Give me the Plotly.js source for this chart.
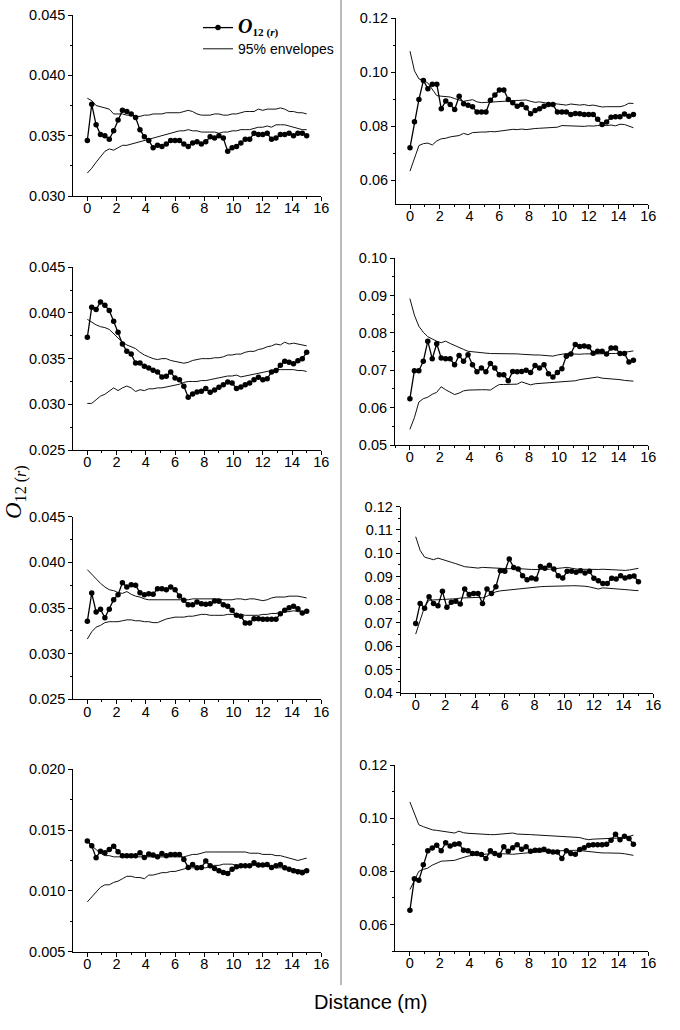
<!DOCTYPE html>
<html><head><meta charset="utf-8">
<script src="https://cdn.plot.ly/plotly-3.0.1.min.js"></script>
<style>html,body{margin:0;padding:0;background:#fff}#chart{width:680px;height:1030px}</style>
</head><body><div id="chart"></div>
<script>
// Distance (m)
const distance = [0,0.3,0.6,0.9,1.2,1.5,1.8,2.1,2.4,2.7,3,3.3,3.6,3.9,4.2,4.5,4.8,5.1,5.4,5.7,6,6.3,6.6,6.9,7.2,7.5,7.8,8.1,8.4,8.7,9,9.3,9.6,9.9,10.2,10.5,10.8,11.1,11.4,11.7,12,12.3,12.6,12.9,13.2,13.5,13.8,14.1,14.4,14.7,15];

// Panel 1 (row 1, left)
const obs1 = [0.0346,0.0376,0.0359,0.0351,0.0350,0.0347,0.0354,0.0363,0.0371,0.0370,0.0368,0.0365,0.0355,0.0349,0.0346,0.0340,0.0342,0.0341,0.0343,0.0346,0.0346,0.0346,0.0343,0.0341,0.0344,0.0345,0.0343,0.0345,0.0349,0.0348,0.0350,0.0348,0.0337,0.0340,0.0341,0.0344,0.0347,0.0347,0.0352,0.0351,0.0351,0.0352,0.0347,0.0348,0.0351,0.0351,0.0352,0.0350,0.0352,0.0352,0.0350];
const up1 = [0.0381,0.0379,0.0375,0.0374,0.0373,0.0372,0.0368,0.0368,0.0368,0.0367,0.0367,0.0366,0.0366,0.0367,0.0367,0.0368,0.0368,0.0368,0.0369,0.0369,0.0369,0.0369,0.0370,0.0371,0.0370,0.0368,0.0367,0.0367,0.0367,0.0368,0.0368,0.0367,0.0367,0.0368,0.0368,0.0369,0.0370,0.0370,0.0370,0.0372,0.0371,0.0372,0.0372,0.0372,0.0373,0.0372,0.0370,0.0370,0.0369,0.0369,0.0368];
const lo1 = [0.0319,0.0323,0.0328,0.0333,0.0337,0.0339,0.0338,0.0340,0.0342,0.0342,0.0343,0.0344,0.0345,0.0346,0.0347,0.0348,0.0349,0.0350,0.0351,0.0352,0.0353,0.0354,0.0354,0.0355,0.0354,0.0354,0.0353,0.0353,0.0353,0.0353,0.0352,0.0353,0.0353,0.0354,0.0354,0.0355,0.0355,0.0355,0.0356,0.0357,0.0357,0.0358,0.0357,0.0359,0.0359,0.0359,0.0358,0.0357,0.0356,0.0355,0.0355];

// Panel 2 (row 1, right)
const obs2 = [0.0720,0.0816,0.0899,0.0969,0.0939,0.0955,0.0955,0.0864,0.0893,0.0880,0.0862,0.0911,0.0883,0.0877,0.0872,0.0852,0.0852,0.0852,0.0896,0.0915,0.0934,0.0934,0.0899,0.0887,0.0874,0.0880,0.0868,0.0846,0.0858,0.0864,0.0874,0.0880,0.0880,0.0852,0.0852,0.0852,0.0843,0.0847,0.0846,0.0843,0.0843,0.0843,0.0825,0.0806,0.0815,0.0833,0.0835,0.0835,0.0845,0.0837,0.0843];
const up2 = [0.1078,0.1005,0.0975,0.0970,0.0960,0.0935,0.0913,0.0911,0.0910,0.0908,0.0902,0.0898,0.0892,0.0895,0.0898,0.0890,0.0887,0.0888,0.0889,0.0889,0.0889,0.0890,0.0891,0.0893,0.0893,0.0895,0.0897,0.0892,0.0888,0.0890,0.0887,0.0884,0.0884,0.0882,0.0880,0.0878,0.0882,0.0879,0.0878,0.0880,0.0876,0.0878,0.0874,0.0871,0.0872,0.0872,0.0873,0.0872,0.0876,0.0885,0.0884];
const lo2 = [0.0633,0.0685,0.0728,0.0735,0.0737,0.0730,0.0745,0.0753,0.0755,0.0760,0.0763,0.0765,0.0773,0.0768,0.0776,0.0778,0.0778,0.0778,0.0780,0.0779,0.0781,0.0785,0.0786,0.0788,0.0787,0.0789,0.0787,0.0790,0.0791,0.0792,0.0793,0.0794,0.0793,0.0796,0.0802,0.0801,0.0800,0.0801,0.0800,0.0799,0.0801,0.0800,0.0802,0.0804,0.0802,0.0804,0.0801,0.0807,0.0806,0.0800,0.0794];

// Panel 3 (row 2, left)
const obs3 = [0.03734,0.04062,0.04037,0.04120,0.04084,0.04026,0.03909,0.03788,0.03661,0.03580,0.03551,0.03453,0.03453,0.03416,0.03398,0.03372,0.03354,0.03299,0.03307,0.03354,0.03288,0.03270,0.03197,0.03077,0.03113,0.03135,0.03142,0.03172,0.03131,0.03157,0.03186,0.03215,0.03245,0.03234,0.03172,0.03190,0.03215,0.03234,0.03270,0.03296,0.03270,0.03281,0.03354,0.03369,0.03427,0.03471,0.03460,0.03445,0.03478,0.03500,0.03569];
const up3 = [0.0393,0.0390,0.0387,0.0385,0.0384,0.0382,0.0377,0.0372,0.0368,0.0365,0.0363,0.0361,0.0357,0.0354,0.0352,0.0350,0.0349,0.0350,0.0350,0.0348,0.0347,0.0346,0.0345,0.0346,0.0348,0.0349,0.0350,0.0350,0.0350,0.0351,0.0351,0.0352,0.0354,0.0354,0.0355,0.0355,0.0357,0.0358,0.0358,0.0360,0.0361,0.0363,0.0364,0.0366,0.0365,0.0368,0.0366,0.0367,0.0366,0.0365,0.0364];
const lo3 = [0.0301,0.0301,0.0305,0.0309,0.0311,0.0315,0.0318,0.0315,0.0318,0.0320,0.0318,0.0314,0.0316,0.0315,0.0317,0.0317,0.0318,0.0318,0.0319,0.0320,0.0321,0.0322,0.0324,0.0325,0.0325,0.0325,0.0326,0.0326,0.0327,0.0328,0.0329,0.0330,0.0331,0.0331,0.0332,0.0330,0.0331,0.0332,0.0333,0.0334,0.0335,0.0336,0.0337,0.0338,0.0338,0.0338,0.0338,0.0338,0.0337,0.0337,0.0336];

// Panel 4 (row 2, right)
const obs4 = [0.0624,0.0699,0.0699,0.0724,0.0778,0.0731,0.0771,0.0733,0.0731,0.0731,0.0715,0.0740,0.0724,0.0742,0.0715,0.0696,0.0706,0.0696,0.0718,0.0706,0.0688,0.0688,0.0672,0.0697,0.0696,0.0697,0.0700,0.0694,0.0713,0.0706,0.0715,0.0691,0.0682,0.0694,0.0704,0.0738,0.0744,0.0769,0.0764,0.0765,0.0763,0.0746,0.0751,0.0751,0.0744,0.0760,0.0760,0.0745,0.0745,0.0722,0.0727];
const up4 = [0.0892,0.0848,0.0818,0.0802,0.0790,0.0783,0.0778,0.0774,0.0778,0.0772,0.0766,0.0760,0.0756,0.0751,0.0750,0.0750,0.0748,0.0746,0.0745,0.0745,0.0745,0.0745,0.0745,0.0746,0.0744,0.0743,0.0742,0.0742,0.0741,0.0741,0.0740,0.0740,0.0738,0.0741,0.0743,0.0745,0.0744,0.0743,0.0743,0.0744,0.0745,0.0744,0.0744,0.0745,0.0745,0.0745,0.0745,0.0746,0.0748,0.0750,0.0752];
const lo4 = [0.0542,0.0573,0.0615,0.0624,0.0628,0.0636,0.0641,0.0656,0.0648,0.0641,0.0635,0.0639,0.0645,0.0647,0.0648,0.0648,0.0648,0.0648,0.0647,0.0655,0.0662,0.0662,0.0663,0.0664,0.0663,0.0669,0.0664,0.0661,0.0664,0.0665,0.0666,0.0666,0.0666,0.0668,0.0669,0.0670,0.0670,0.0672,0.0675,0.0677,0.0678,0.0679,0.0682,0.0679,0.0678,0.0679,0.0677,0.0675,0.0673,0.0673,0.0671];

// Panel 5 (row 3, left)
const obs5 = [0.03354,0.03664,0.03456,0.03485,0.03394,0.03485,0.03591,0.03646,0.03777,0.03730,0.03755,0.03748,0.03668,0.03646,0.03657,0.03650,0.03712,0.03712,0.03701,0.03730,0.03701,0.03631,0.03584,0.03536,0.03536,0.03566,0.03547,0.03540,0.03547,0.03577,0.03573,0.03536,0.03518,0.03474,0.03420,0.03409,0.03336,0.03336,0.03383,0.03383,0.03376,0.03376,0.03376,0.03376,0.03438,0.03474,0.03504,0.03518,0.03493,0.03445,0.03464];
const up5 = [0.0392,0.0387,0.0381,0.0377,0.0373,0.0370,0.0369,0.0367,0.0366,0.0368,0.0365,0.0363,0.0362,0.0360,0.0359,0.0359,0.0359,0.0359,0.0359,0.0359,0.0359,0.0359,0.0359,0.0359,0.0360,0.0360,0.0360,0.0360,0.0360,0.0360,0.0360,0.0359,0.0359,0.0359,0.0360,0.0360,0.0359,0.0360,0.0360,0.0359,0.0358,0.0359,0.0361,0.0362,0.0362,0.0362,0.0363,0.0363,0.0363,0.0362,0.0361];
const lo5 = [0.0316,0.0324,0.0329,0.0331,0.0334,0.0335,0.0335,0.0335,0.0336,0.0337,0.0337,0.0336,0.0336,0.0335,0.0335,0.0334,0.0334,0.0336,0.0338,0.0339,0.0340,0.0340,0.0340,0.0341,0.0341,0.0342,0.0343,0.0343,0.0342,0.0342,0.0342,0.0342,0.0343,0.0343,0.0343,0.0343,0.0342,0.0342,0.0342,0.0342,0.0343,0.0343,0.0344,0.0344,0.0345,0.0346,0.0346,0.0347,0.0346,0.0346,0.0345];

// Panel 6 (row 3, right)
const obs6 = [0.0698,0.0784,0.0763,0.0813,0.0784,0.0774,0.0836,0.0767,0.0789,0.0793,0.0781,0.0846,0.0822,0.0827,0.0827,0.0784,0.0846,0.0827,0.0856,0.0925,0.0922,0.0975,0.0939,0.0932,0.0903,0.0886,0.0893,0.0889,0.0943,0.0935,0.0948,0.0932,0.0903,0.0893,0.0922,0.0922,0.0918,0.0925,0.0915,0.0922,0.0892,0.0882,0.0870,0.0870,0.0892,0.0889,0.0903,0.0893,0.0899,0.0902,0.0877];
const up6 = [0.1071,0.1012,0.0983,0.0977,0.0972,0.0979,0.0972,0.0966,0.0961,0.0955,0.0948,0.0942,0.0940,0.0939,0.0936,0.0939,0.0938,0.0935,0.0935,0.0935,0.0934,0.0933,0.0935,0.0933,0.0932,0.0932,0.0930,0.0930,0.0929,0.0931,0.0931,0.0932,0.0934,0.0937,0.0939,0.0935,0.0932,0.0931,0.0930,0.0929,0.0929,0.0930,0.0931,0.0930,0.0927,0.0925,0.0925,0.0926,0.0928,0.0932,0.0935];
const lo6 = [0.0652,0.0716,0.0770,0.0798,0.0800,0.0801,0.0801,0.0802,0.0802,0.0804,0.0807,0.0808,0.0808,0.0808,0.0810,0.0808,0.0815,0.0826,0.0834,0.0838,0.0840,0.0842,0.0846,0.0849,0.0851,0.0851,0.0853,0.0854,0.0856,0.0857,0.0858,0.0859,0.0860,0.0860,0.0860,0.0860,0.0860,0.0860,0.0858,0.0855,0.0850,0.0846,0.0851,0.0850,0.0848,0.0846,0.0845,0.0843,0.0842,0.0840,0.0839];

// Panel 7 (row 4, left)
const obs7 = [0.01410,0.01371,0.01273,0.01327,0.01314,0.01341,0.01368,0.01322,0.01289,0.01289,0.01289,0.01289,0.01314,0.01275,0.01303,0.01295,0.01281,0.01308,0.01289,0.01300,0.01300,0.01300,0.01259,0.01193,0.01218,0.01190,0.01193,0.01245,0.01207,0.01185,0.01166,0.01152,0.01144,0.01179,0.01199,0.01207,0.01207,0.01207,0.01232,0.01212,0.01212,0.01218,0.01193,0.01207,0.01218,0.01190,0.01179,0.01166,0.01158,0.01149,0.01166];
const up7 = [0.0141,0.0137,0.0134,0.0131,0.0129,0.0129,0.0128,0.0128,0.0128,0.0128,0.0128,0.0128,0.0128,0.0128,0.0128,0.0128,0.0128,0.0128,0.0128,0.0128,0.0128,0.0128,0.0128,0.0129,0.0130,0.0130,0.0131,0.0132,0.0132,0.0132,0.0132,0.0132,0.0132,0.0132,0.0132,0.0132,0.0132,0.0131,0.0131,0.0131,0.0130,0.0130,0.0130,0.0129,0.0129,0.0128,0.0127,0.0126,0.0125,0.0126,0.0127];
const lo7 = [0.0091,0.0095,0.0099,0.0103,0.0105,0.0105,0.0107,0.0108,0.0110,0.0112,0.0112,0.0111,0.0111,0.0110,0.0113,0.0113,0.0114,0.0115,0.0115,0.0116,0.0116,0.0117,0.0118,0.0119,0.0119,0.0119,0.0119,0.0119,0.0120,0.0121,0.0121,0.0122,0.0122,0.0122,0.0121,0.0121,0.0121,0.0121,0.0121,0.0121,0.0121,0.0120,0.0120,0.0119,0.0119,0.0119,0.0118,0.0118,0.0117,0.0117,0.0117];

// Panel 8 (row 4, right)
const obs8 = [0.0653,0.0772,0.0766,0.0825,0.0877,0.0888,0.0898,0.0877,0.0907,0.0895,0.0902,0.0904,0.0879,0.0877,0.0867,0.0867,0.0863,0.0848,0.0877,0.0867,0.0860,0.0892,0.0875,0.0889,0.0900,0.0883,0.0892,0.0875,0.0879,0.0879,0.0883,0.0875,0.0873,0.0873,0.0848,0.0877,0.0867,0.0864,0.0882,0.0889,0.0898,0.0900,0.0900,0.0900,0.0902,0.0917,0.0939,0.0919,0.0932,0.0923,0.0902];
const up8 = [0.1061,0.1015,0.0975,0.0968,0.0962,0.0956,0.0954,0.0952,0.0949,0.0947,0.0944,0.0951,0.0945,0.0943,0.0942,0.0941,0.0938,0.0937,0.0938,0.0938,0.0939,0.0940,0.0941,0.0944,0.0940,0.0940,0.0939,0.0938,0.0937,0.0936,0.0935,0.0934,0.0933,0.0933,0.0933,0.0932,0.0930,0.0929,0.0927,0.0922,0.0919,0.0921,0.0922,0.0922,0.0923,0.0924,0.0925,0.0925,0.0926,0.0931,0.0936];
const lo8 = [0.0731,0.0768,0.0800,0.0807,0.0812,0.0823,0.0832,0.0838,0.0839,0.0839,0.0841,0.0847,0.0853,0.0857,0.0860,0.0862,0.0864,0.0865,0.0866,0.0867,0.0867,0.0866,0.0865,0.0864,0.0866,0.0867,0.0869,0.0871,0.0872,0.0873,0.0873,0.0874,0.0875,0.0877,0.0878,0.0879,0.0879,0.0879,0.0878,0.0876,0.0875,0.0873,0.0870,0.0869,0.0869,0.0869,0.0869,0.0868,0.0866,0.0863,0.0860];

const seriesNames = [
  '<span style="font-family:\'Liberation Serif\',\'Times New Roman\',serif;font-size:20px"><b><i>O</i></b></span><span style="font-family:\'Liberation Serif\',\'Times New Roman\',serif;font-size:16px"><sub><b>12 (<i>r</i>)</b></sub></span>',
  '95% envelopes'
];
const xTitle = 'Distance (m)';
const yTitle = '<i>O</i><sub>12 (<i>r</i>)</sub>';

const panelData = [
  [obs1, up1, lo1], [obs2, up2, lo2], [obs3, up3, lo3], [obs4, up4, lo4],
  [obs5, up5, lo5], [obs6, up6, lo6], [obs7, up7, lo7], [obs8, up8, lo8]
];

// layout (pixel boxes: left, right, top, bottom) and y axis settings
const W = 680, H = 1030;
const panelBoxes = [
  {l:73.3, r:321.3, t:15,    b:196,   xr:[-0.96,16], yr:[0.030,0.045], dt:0.005, mdt:0.0025, fmt:'.3f'},
  {l:396,  r:648.3, t:18.3,  b:204,   xr:[-0.94,16], yr:[0.0511,0.12], dt:0.02,  mdt:0.01,   fmt:'.2f'},
  {l:73.3, r:321.3, t:267.3, b:450,   xr:[-0.96,16], yr:[0.025,0.045], dt:0.005, mdt:0.0025, fmt:'.3f'},
  {l:395,  r:648.3, t:258.3, b:445,   xr:[-1.0,16],  yr:[0.05,0.10],   dt:0.01,  mdt:0.005,  fmt:'.2f'},
  {l:73.3, r:321.3, t:516.7, b:699.3, xr:[-0.96,16], yr:[0.025,0.045], dt:0.005, mdt:0.0025, fmt:'.3f'},
  {l:400.7,r:653.3, t:506.7, b:692.7, xr:[-1.01,16], yr:[0.04,0.12],   dt:0.01,  mdt:0.005,  fmt:'.2f'},
  {l:73.3, r:321.3, t:769.3, b:951.7, xr:[-0.96,16], yr:[0.005,0.020], dt:0.005, mdt:0.0025, fmt:'.3f'},
  {l:395.3,r:648.3, t:765,   b:951,   xr:[-0.98,16], yr:[0.05,0.12],   dt:0.02,  mdt:0.01,   fmt:'.2f'}
];

const sans = 'Liberation Sans, Arial, sans-serif';
const tickFont = {family:sans, size:14.5, color:'#000'};
const traces = [];
const layout = {
  width:W, height:H, margin:{l:0,r:0,t:0,b:0},
  paper_bgcolor:'#fff', plot_bgcolor:'rgba(0,0,0,0)',
  showlegend:true,
  legend:{x:198/W, y:1-12/H, xanchor:'left', yanchor:'top', bgcolor:'rgba(0,0,0,0)',
          font:{family:sans, size:14, color:'#000'}, itemwidth:30, tracegroupgap:0},
  annotations:[
    {text:xTitle, x:371/W, y:1-1002/H, xref:'paper', yref:'paper', xanchor:'center', yanchor:'middle', showarrow:false,
     font:{family:sans, size:20, color:'#000'}},
    {text:yTitle, x:15/W, y:1-492/H, xref:'paper', yref:'paper', xanchor:'center', yanchor:'middle', showarrow:false, textangle:-90,
     font:{family:'Liberation Serif, Times New Roman, serif', size:23, color:'#000'}}
  ],
  shapes:[
    {type:'line', xref:'paper', yref:'paper', x0:341/W, x1:341/W, y0:1, y1:1-985/H, line:{color:'#777', width:1}}
  ]
};

panelBoxes.forEach((p, i) => {
  const n = i + 1;
  const xa = 'x' + (n === 1 ? '' : n), ya = 'y' + (n === 1 ? '' : n);
  const [obs, up, lo] = panelData[i];
  const envStyle = {color:'#111', width:1};
  traces.push({x:distance, y:up, xaxis:xa, yaxis:ya, mode:'lines', line:envStyle,
               name:seriesNames[1], showlegend:i===0, legendrank:2, hoverinfo:'skip'});
  traces.push({x:distance, y:lo, xaxis:xa, yaxis:ya, mode:'lines', line:envStyle,
               name:seriesNames[1], showlegend:false, hoverinfo:'skip'});
  traces.push({x:distance, y:obs, xaxis:xa, yaxis:ya, mode:'lines+markers',
               line:{color:'#000', width:1.3}, marker:{color:'#000', size:5.5},
               name:seriesNames[0], showlegend:i===0, legendrank:1});
  const common = {showline:true, linecolor:'#000', linewidth:1, ticks:'outside', ticklen:4, tickwidth:1,
                  tickcolor:'#000', showgrid:false, zeroline:false, tickfont:tickFont, fixedrange:true};
  layout['xaxis' + (n === 1 ? '' : n)] = Object.assign({}, common, {
    domain:[p.l/W, p.r/W], range:p.xr, anchor:ya, tick0:0, dtick:2, ticklabelstandoff:-5,
    minor:{dtick:1, tick0:0, ticklen:2, tickcolor:'#000', ticks:'outside'}
  });
  layout['yaxis' + (n === 1 ? '' : n)] = Object.assign({}, common, {
    domain:[1 - p.b/H, 1 - p.t/H], range:p.yr, anchor:xa, tick0:0, dtick:p.dt, tickformat:p.fmt,
    minor:{dtick:p.mdt, tick0:0, ticklen:2, tickcolor:'#000', ticks:'outside'}
  });
});

Plotly.newPlot('chart', traces, layout, {staticPlot:true});
</script>
</body></html>
